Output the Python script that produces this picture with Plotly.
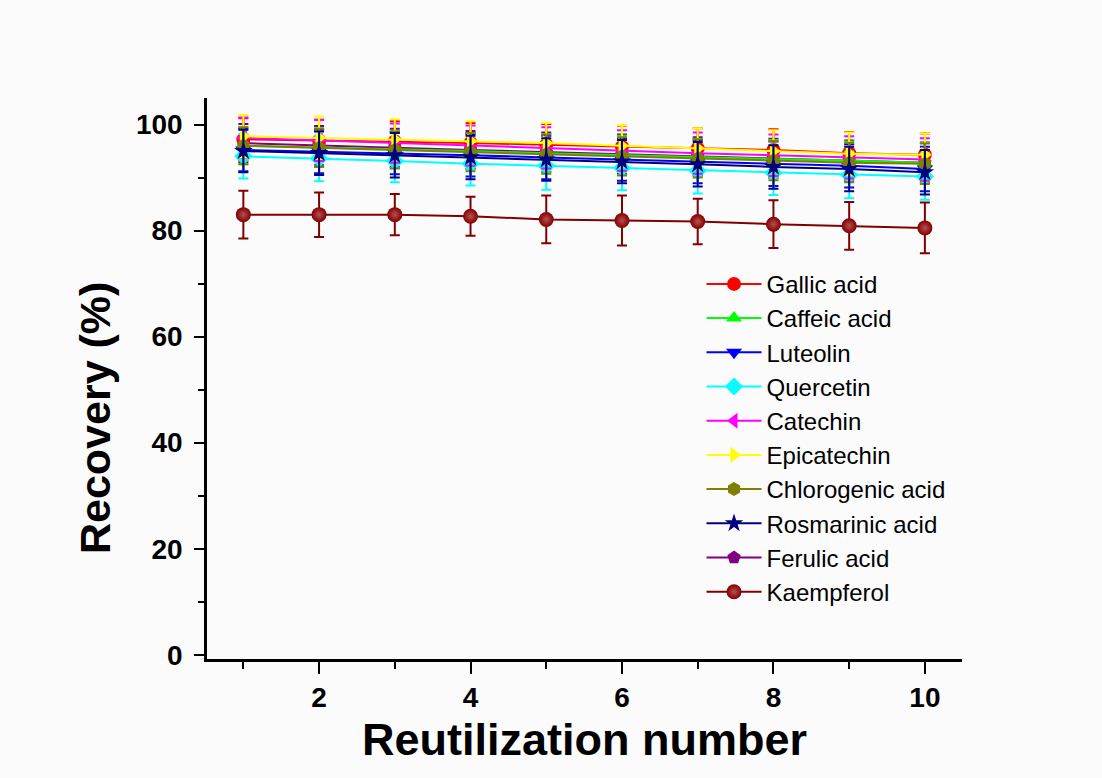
import plotly.graph_objects as go

x = list(range(1, 11))

names = ["Gallic acid", "Caffeic acid", "Luteolin", "Quercetin", "Catechin",
         "Epicatechin", "Chlorogenic acid", "Rosmarinic acid", "Ferulic acid", "Kaempferol"]

gallic = [97.2, 97.0, 96.8, 96.5, 96.2, 95.8, 95.5, 95.2, 94.6, 94.3]
gallic_err = [4.0, 3.9, 3.8, 3.8, 3.9, 4.0, 3.8, 3.9, 4.0, 4.0]
caffeic = [96.0, 95.7, 95.3, 95.0, 94.6, 94.2, 93.8, 93.5, 93.2, 92.8]
caffeic_err = [3.5, 3.6, 3.5, 3.4, 3.6, 3.7, 3.5, 3.6, 3.6, 3.7]
luteolin = [95.2, 94.9, 94.6, 94.2, 93.8, 93.4, 93.0, 92.6, 92.2, 91.6]
luteolin_err = [4.0, 4.1, 4.0, 4.0, 4.1, 4.0, 4.1, 4.2, 4.1, 4.2]
quercetin = [94.0, 93.6, 93.1, 92.6, 92.2, 91.8, 91.3, 90.9, 90.5, 90.2]
quercetin_err = [4.2, 4.3, 4.0, 4.1, 4.5, 4.2, 4.3, 4.2, 4.4, 4.4]
catechin = [97.5, 97.0, 96.5, 96.0, 95.6, 95.1, 94.6, 94.2, 93.8, 93.4]
catechin_err = [3.8, 3.9, 3.7, 3.8, 3.9, 3.8, 3.9, 3.9, 4.0, 4.0]
epicatechin = [97.8, 97.5, 97.2, 96.9, 96.5, 96.0, 95.5, 95.0, 94.5, 94.3]
epicatechin_err = [4.0, 4.0, 3.8, 3.7, 3.8, 3.9, 3.8, 3.9, 4.0, 4.0]
chlorogenic = [96.0, 95.6, 95.2, 94.8, 94.4, 94.0, 93.6, 93.2, 92.8, 92.6]
chlorogenic_err = [3.5, 3.6, 3.5, 3.6, 3.7, 3.6, 3.6, 3.7, 3.7, 3.8]
rosmarinic = [95.0, 94.6, 94.2, 93.8, 93.4, 93.0, 92.5, 92.0, 91.6, 91.0]
rosmarinic_err = [4.0, 4.1, 4.2, 4.1, 4.0, 4.1, 4.2, 4.1, 4.2, 4.2]
ferulic = [96.5, 96.0, 95.6, 95.2, 94.8, 94.4, 94.0, 93.6, 93.2, 92.8]
ferulic_err = [3.6, 3.7, 3.6, 3.6, 3.7, 3.7, 3.6, 3.7, 3.8, 3.8]
kaempferol = [83.0, 83.0, 83.0, 82.7, 82.1, 81.9, 81.7, 81.2, 80.9, 80.5]
kaempferol_err = [4.5, 4.2, 3.9, 3.7, 4.5, 4.7, 4.3, 4.5, 4.5, 4.8]

values = [gallic, caffeic, luteolin, quercetin, catechin, epicatechin,
          chlorogenic, rosmarinic, ferulic, kaempferol]
errors = [gallic_err, caffeic_err, luteolin_err, quercetin_err, catechin_err,
          epicatechin_err, chlorogenic_err, rosmarinic_err, ferulic_err, kaempferol_err]
colors = ["#FF0000", "#00FF00", "#0000FF", "#00FFFF", "#FF00FF",
          "#FFFF00", "#808000", "#000080", "#800080", "#800000"]
symbols = ["circle", "triangle-up", "triangle-down", "diamond", "triangle-left",
           "triangle-right", "hexagon", "star", "pentagon", "circle"]

# drawing order (legend order kept via legendrank)
draw_order = [8, 0, 1, 2, 3, 4, 5, 6, 7, 9]

FONT = "Liberation Sans, Arial, sans-serif"

fig = go.Figure()
for i in draw_order:
    n, v, e, c, s = names[i], values[i], errors[i], colors[i], symbols[i]
    marker = dict(symbol=s, size=14, color=c, line=dict(width=0))
    if n == "Kaempferol":
        marker["gradient"] = dict(type="radial", color="#b85050")
        marker["size"] = 15
    fig.add_trace(go.Scatter(
        x=x, y=v, name=n, mode="lines+markers", legendrank=i + 1,
        line=dict(color=c, width=2),
        marker=marker,
        error_y=dict(type="data", array=e, visible=True, color=c, thickness=2, width=5),
    ))

fig.update_layout(
    width=1102, height=778,
    paper_bgcolor="#fbfbfb", plot_bgcolor="#fbfbfb",
    margin=dict(l=207, r=140, t=98, b=119),
    font=dict(family=FONT, color="black"),
    showlegend=True,
    legend=dict(
        x=0.655, y=0.708, xanchor="left", yanchor="top",
        bgcolor="rgba(0,0,0,0)", font=dict(size=24, family=FONT),
        tracegroupgap=0, itemwidth=55,
    ),
    xaxis=dict(
        range=[0.52, 10.49], tickvals=[2, 4, 6, 8, 10],
        ticks="outside", ticklen=12, tickwidth=2, tickcolor="black",
        showline=True, linewidth=2.5, linecolor="black", showgrid=False, zeroline=False,
        tickfont=dict(size=28, family=FONT, weight="bold"),
        ticklabelstandoff=0,
        minor=dict(tickvals=[1, 3, 5, 7, 9], ticks="outside", ticklen=7, tickwidth=2, tickcolor="black"),
        title=dict(text="<b>Reutilization number</b>", font=dict(size=45, family=FONT), standoff=12),
    ),
    yaxis=dict(
        range=[-0.8, 105], tickvals=[0, 20, 40, 60, 80, 100],
        ticks="outside", ticklen=10, tickwidth=2, tickcolor="black",
        showline=True, linewidth=2.5, linecolor="black", showgrid=False, zeroline=False,
        tickfont=dict(size=28, family=FONT, weight="bold"),
        ticklabelstandoff=6,
        minor=dict(tickvals=[10, 30, 50, 70, 90], ticks="outside", ticklen=6, tickwidth=2, tickcolor="black"),
    ),
    annotations=[dict(
        text="<b>Recovery (%)</b>", textangle=-90, showarrow=False,
        xref="paper", yref="paper", x=-0.148, y=0.43, xanchor="center", yanchor="middle",
        font=dict(size=43, family=FONT, color="black"),
    )],
)

fig.write_html("out.html")
